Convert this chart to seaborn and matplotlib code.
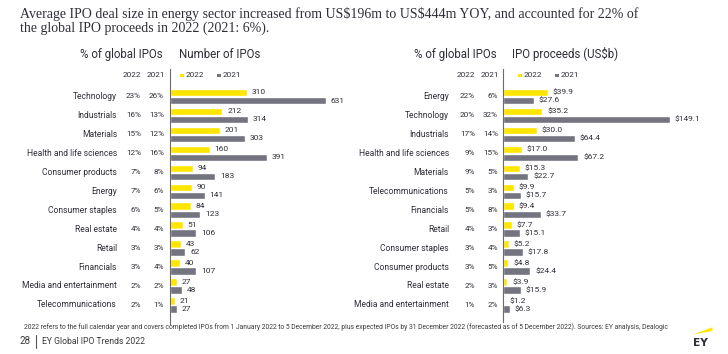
import matplotlib
matplotlib.use("Agg")
import numpy as np
import pandas as pd
import seaborn as sns
import matplotlib.pyplot as plt
from matplotlib import font_manager, transforms
from matplotlib.patches import Rectangle, Polygon
from matplotlib.lines import Line2D

# ---------------- data ----------------
num_sectors = ["Technology", "Industrials", "Materials", "Health and life sciences",
               "Consumer products", "Energy", "Consumer staples", "Real estate",
               "Retail", "Financials", "Media and entertainment", "Telecommunications"]
num_2022 = [310, 212, 201, 160, 94, 90, 84, 51, 43, 40, 27, 21]
num_2021 = [631, 314, 303, 391, 183, 141, 123, 106, 62, 107, 48, 27]
num_pct_2022 = ["23%", "16%", "15%", "12%", "7%", "7%", "6%", "4%", "3%", "3%", "2%", "2%"]
num_pct_2021 = ["26%", "13%", "12%", "16%", "8%", "6%", "5%", "4%", "3%", "4%", "2%", "1%"]

proc_sectors = ["Energy", "Technology", "Industrials", "Health and life sciences",
                "Materials", "Telecommunications", "Financials", "Retail",
                "Consumer staples", "Consumer products", "Real estate",
                "Media and entertainment"]
proc_2022 = [39.9, 35.2, 30.0, 17.0, 15.3, 9.9, 9.4, 7.7, 5.2, 4.8, 3.9, 1.2]
proc_2021 = [27.6, 149.1, 64.4, 67.2, 22.7, 15.7, 33.7, 15.1, 17.8, 24.4, 15.9, 6.3]
proc_pct_2022 = ["22%", "20%", "17%", "9%", "9%", "5%", "5%", "4%", "3%", "3%", "2%", "1%"]
proc_pct_2021 = ["6%", "32%", "14%", "15%", "5%", "3%", "8%", "3%", "4%", "5%", "3%", "2%"]

years = ["2022", "2021"]
title_lines = ["Average IPO deal size in energy sector increased from US$196m to US$444m YOY, and accounted for 22% of",
               "the global IPO proceeds in 2022 (2021: 6%)."]
footnote = ("2022 refers to the full calendar year and covers completed IPOs from 1 January 2022 to 5 December 2022, "
            "plus expected IPOs by 31 December 2022 (forecasted as of 5 December 2022). Sources: EY analysis, Dealogic")
footer_page = "28"
footer_text = "EY Global IPO Trends 2022"

# ---------------- style ----------------
YELLOW = "#FFE600"
GREY = "#747480"
TXT = "#2E2E38"

sns.set_theme(style="white")
names = {f.name for f in font_manager.fontManager.ttflist}
SANS = "Liberation Sans Narrow" if "Liberation Sans Narrow" in names else "Roboto"
SERIF = "Liberation Serif"
plt.rcParams["font.family"] = [SANS, "DejaVu Sans"]
plt.rcParams["text.parse_math"] = False

W, H = 728, 354
fig = plt.figure(figsize=(W / 100, H / 100), dpi=100)
fig.patch.set_facecolor("white")
renderer = fig.canvas.get_renderer()


def fx(p):
    return p / W


def fy(p):
    return 1 - p / H


def fit(t, w):
    bb = t.get_window_extent(renderer)
    t.set_fontsize(t.get_fontsize() * w / bb.width)
    return t.get_fontsize()


def size_for(text, w, family=None, weight="normal"):
    t = fig.text(0, 0, text, fontsize=10, family=family or [SANS, "DejaVu Sans"], weight=weight)
    bb = t.get_window_extent(renderer)
    t.remove()
    return 10 * w / bb.width


BOOST = 1.07
FS_CAT = size_for("Health and life sciences", 85) * BOOST
FS_PCT = size_for("23%", 14) * BOOST
FS_VAL = size_for("$149.1", 24) * BOOST
FS_SUB = size_for("2022", 17) * BOOST
FS_HEAD = size_for("% of global IPOs", 81) * 1.03

ROW0 = 96.5
ROWH = 18.95
TOP = 69


def panel(L, R, B, scale, cats, v22, v21, p22, p21, lab22, lab21,
          cat_right, pc22_right, pc21_right, head1_x, head2_x, head2, leg_x):
    ax = fig.add_axes([fx(L), fy(B), (R - L) / W, (B - TOP) / H])
    df = pd.DataFrame({"Sector": cats * 2,
                       "Year": [years[0]] * len(cats) + [years[1]] * len(cats),
                       "Value": list(v22) + list(v21)})
    sns.barplot(data=df, x="Value", y="Sector", hue="Year", hue_order=years, order=cats,
                palette={years[0]: YELLOW, years[1]: GREY}, orient="h", width=0.85,
                gap=0.08, saturation=1, errorbar=None, legend=False, ax=ax)
    ax.set_xlim(0, (R - L) / scale)
    ax.set_ylim((B - ROW0) / ROWH, -(ROW0 - TOP) / ROWH)
    ax.set_xticks([])
    ax.set_yticks([])
    ax.set_xlabel("")
    ax.set_ylabel("")
    ax.patch.set_alpha(0)
    for s in ["top", "right", "bottom"]:
        ax.spines[s].set_visible(False)
    ax.spines["left"].set_color("#6b6b6b")
    ax.spines["left"].set_linewidth(0.8)
    for cont, labs in zip(ax.containers, [lab22, lab21]):
        ax.bar_label(cont, labels=labs, padding=3.5, fontsize=FS_VAL, color=TXT)
    tr = transforms.blended_transform_factory(fig.transFigure, ax.transData)
    for i, c in enumerate(cats):
        ax.text(fx(cat_right), i, c, transform=tr, ha="right", va="center",
                fontsize=FS_CAT, color=TXT)
        ax.text(fx(pc22_right), i, p22[i], transform=tr, ha="right", va="center",
                fontsize=FS_PCT, color=TXT)
        ax.text(fx(pc21_right), i, p21[i], transform=tr, ha="right", va="center",
                fontsize=FS_PCT, color=TXT)
    # headers
    fig.text(fx(head1_x), fy(58.3), "% of global IPOs", fontsize=FS_HEAD, color=TXT,
             va="baseline")
    fig.text(fx(head2_x), fy(58.3), head2, fontsize=FS_HEAD, color=TXT, va="baseline")
    # sub-header
    fig.text(fx(pc22_right), fy(77.3), years[0], fontsize=FS_SUB, color=TXT,
             ha="right", va="baseline")
    fig.text(fx(pc21_right + 1), fy(77.3), years[1], fontsize=FS_SUB, color=TXT,
             ha="right", va="baseline")
    # legend
    for (sx, col, yr) in zip(leg_x, [YELLOW, GREY], years):
        fig.add_artist(Rectangle((fx(sx), fy(77.3)), 3.8 / W, 3.8 / H,
                                 transform=fig.transFigure, color=col, lw=0))
        fig.text(fx(sx + 6), fy(77.3), yr, fontsize=FS_SUB, color=TXT, va="baseline")
    return ax


panel(170, 360, 324, 0.2472, num_sectors, num_2022, num_2021, num_pct_2022, num_pct_2021,
      [str(v) for v in num_2022], [str(v) for v in num_2021],
      117, 141, 164, 80, 179, "Number of IPOs", [180, 217])

panel(503, 705, 322, 1.12, proc_sectors, proc_2022, proc_2021, proc_pct_2022, proc_pct_2021,
      [f"${v:.1f}" for v in proc_2022], [f"${v:.1f}" for v in proc_2021],
      449, 475, 498, 414, 512, "IPO proceeds (US$b)", [518, 555])

# title
t1 = fig.text(fx(20), fy(18.3), title_lines[0], family=[SERIF, "DejaVu Serif"], fontsize=10,
              color=TXT, va="baseline")
fs_title = fit(t1, 617)
fig.text(fx(20), fy(32.3), title_lines[1], family=[SERIF, "DejaVu Serif"], fontsize=fs_title,
         color=TXT, va="baseline")

# footnote
fn = fig.text(fx(24), fy(327), footnote, fontsize=5, color="#3a3a3a", va="center")
fit(fn, 655)

# footer
fig.text(fx(19), fy(341.5), footer_page, fontsize=7, color="#3a3a3a", va="center")
fig.add_artist(Line2D([fx(35.5), fx(35.5)], [fy(335), fy(348)], transform=fig.transFigure,
                      color="#555555", lw=0.8))
ft = fig.text(fx(42), fy(341.5), footer_text, fontsize=7, color="#3a3a3a", va="center")
fit(ft, 104)

# EY logo
fig.add_artist(Polygon([(fx(693), fy(334.5)), (fx(712.5), fy(327.3)), (fx(712.5), fy(331))],
                       closed=True, transform=fig.transFigure, color=YELLOW, lw=0))
ey = fig.text(fx(693), fy(346), "EY", fontsize=8, weight="bold", color=TXT,
              ha="left", va="baseline", family=["DejaVu Sans"])
fit(ey, 15)

fig.savefig("out.png", dpi=100, facecolor="white")
